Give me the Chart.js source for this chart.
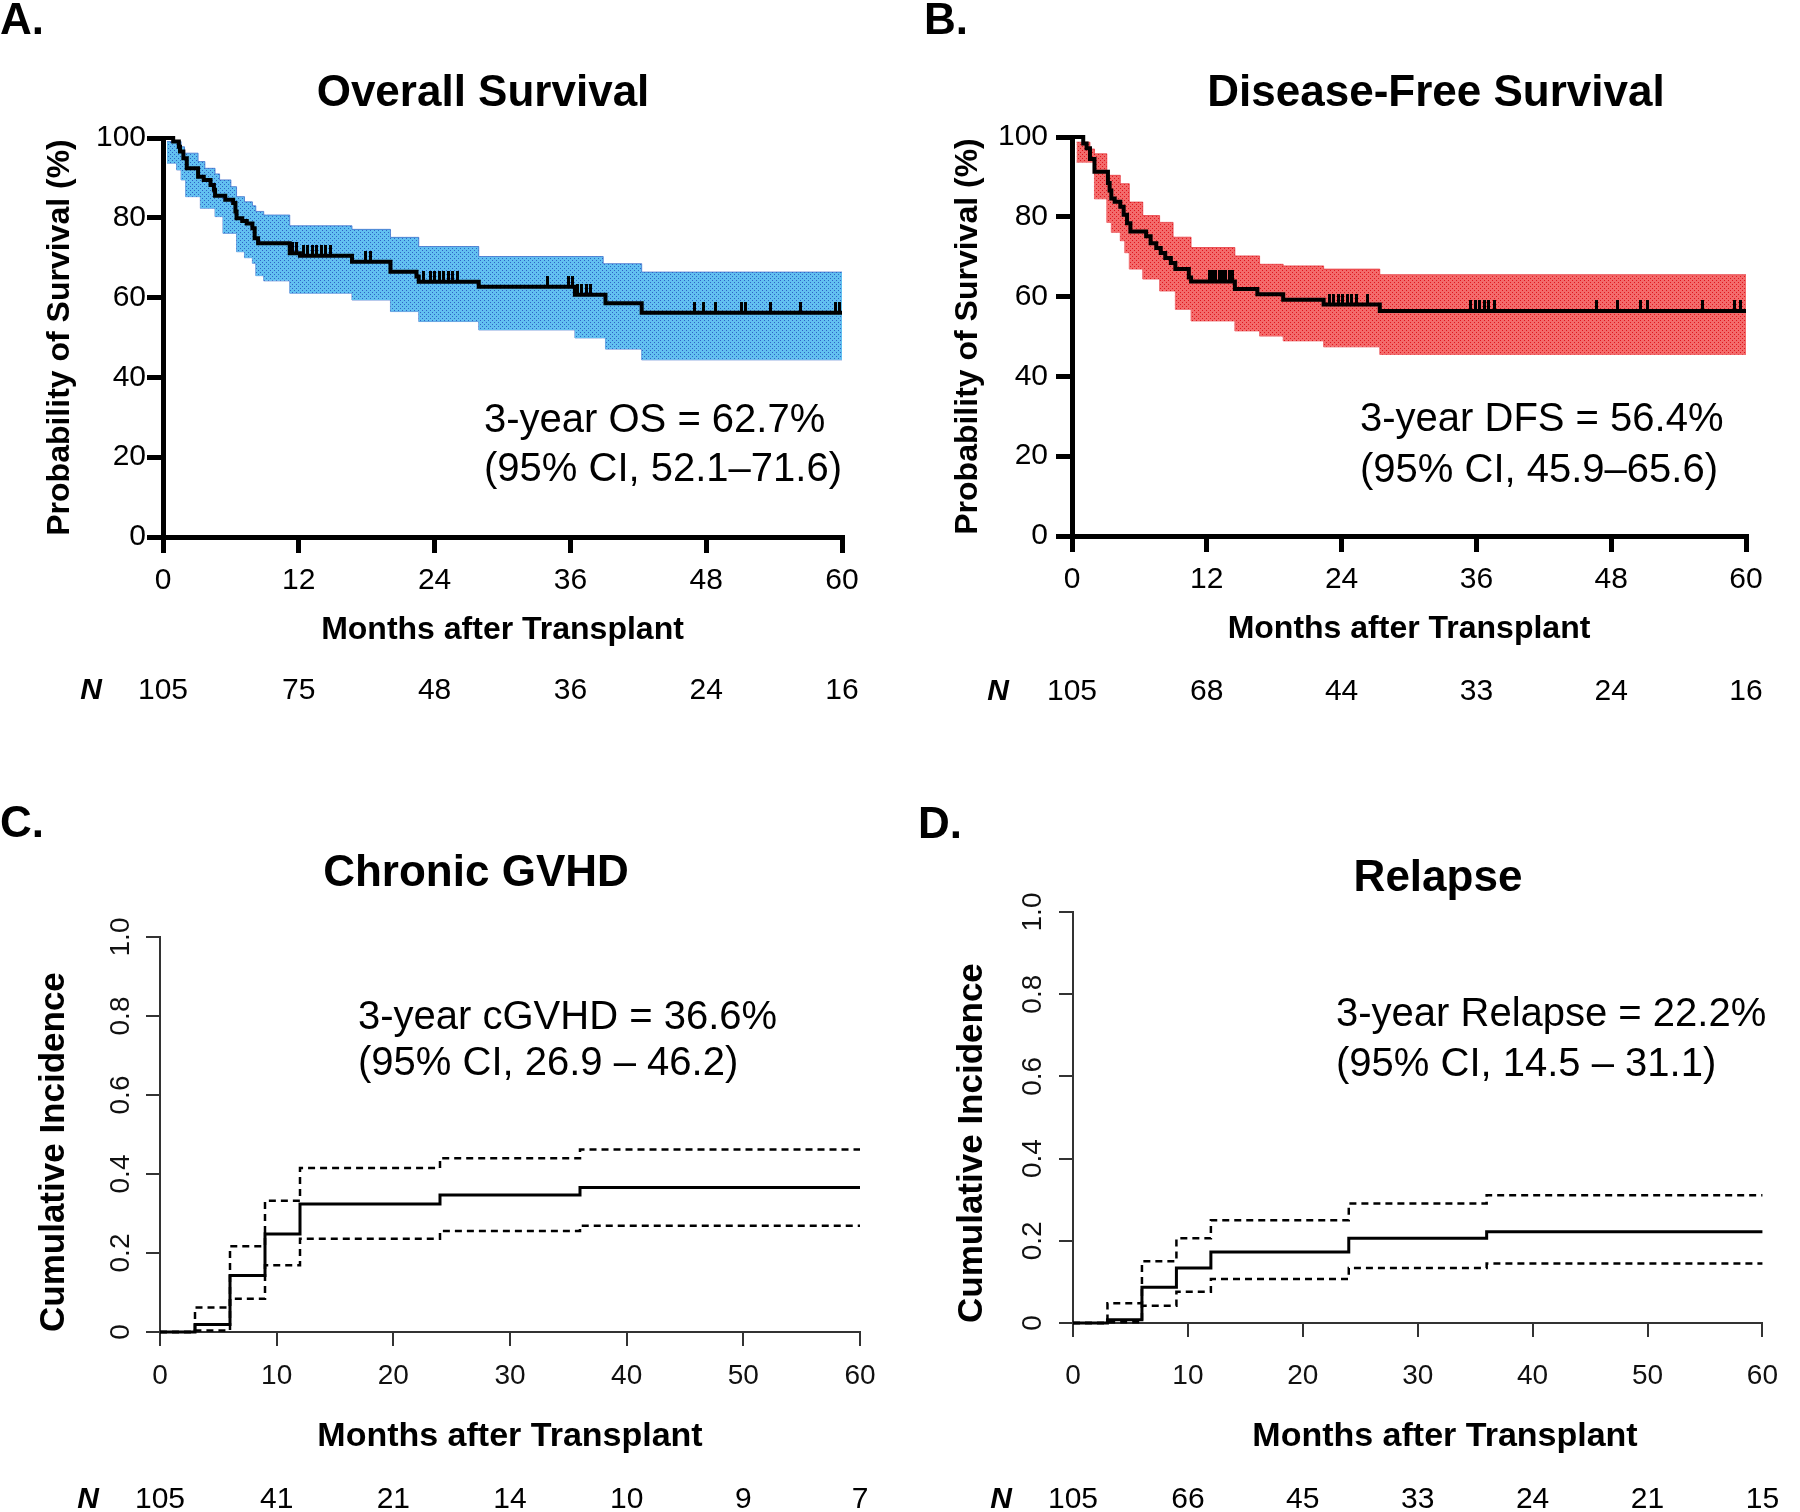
<!DOCTYPE html>
<html>
<head>
<meta charset="utf-8">
<script src="https://cdn.jsdelivr.net/npm/chart.js@4.4.1/dist/chart.umd.min.js"></script>
<style>
  body { margin: 0; background: #fff; }
  #wrap { position: relative; width: 1800px; height: 1512px; overflow: hidden; }
  #wrap canvas { position: absolute; }
</style>
</head>
<body>
<div id="wrap">
  <canvas id="chA" width="900" height="756" style="left:0;top:0"></canvas>
  <canvas id="chB" width="900" height="756" style="left:900px;top:0"></canvas>
  <canvas id="chC" width="900" height="756" style="left:0;top:756px"></canvas>
  <canvas id="chD" width="900" height="756" style="left:900px;top:756px"></canvas>
</div>
<script>
const FONT = '"Liberation Sans", Arial, sans-serif';
Chart.defaults.font.family = FONT;
Chart.defaults.color = '#000';

// A. overall survival: step times (months) and survival (%)
const osTime = [0, 0.9, 1.4, 1.5, 1.8, 2.1, 3.1, 3.6, 4.2, 4.5, 4.6, 5.5, 6.2, 6.4, 6.5, 7.0, 7.4, 7.9, 8.1, 8.4, 11.2, 12.1, 16.7, 20.1, 22.4, 22.6, 27.9, 36.4, 39.1, 42.3, 60];
const osSurv = [100, 99.1, 97.8, 96.6, 94.9, 92.4, 90.3, 89.5, 88.2, 87.0, 85.5, 84.5, 83.7, 81.6, 79.9, 79.2, 78.6, 77.4, 74.9, 73.6, 71.1, 70.5, 69.0, 66.5, 65.3, 64.0, 62.7, 60.7, 58.6, 56.2, 56.2];
const osBandTime = [0.35, 1.2, 1.6, 1.9, 2.0, 3.1, 3.3, 3.7, 4.6, 5.0, 5.3, 6.0, 6.5, 7.2, 7.9, 8.2, 8.9, 11.2, 16.7, 20.1, 22.6, 27.9, 36.4, 38.9, 39.1, 42.3, 60];
const osUpper = [99.1, 99.1, 97.8, 96.2, 96.2, 94.1, 94.1, 92.4, 91.0, 89.5, 89.5, 87.8, 85.3, 84.0, 83.0, 81.6, 80.7, 78.0, 77.1, 75.1, 72.8, 70.3, 70.3, 68.5, 68.5, 66.4, 66.4];
const osLower = [93.7, 92.0, 89.5, 89.5, 85.3, 85.3, 82.4, 82.4, 80.3, 80.3, 76.1, 76.1, 71.5, 70.0, 68.6, 65.5, 64.2, 61.1, 59.4, 56.5, 54.0, 51.9, 49.9, 49.9, 47.1, 44.4, 44.4];
const osCens = [11.4, 11.8, 12.4, 12.8, 13.2, 13.6, 14.0, 14.4, 14.8, 17.9, 18.3, 23.0, 23.6, 24.0, 24.4, 24.8, 25.2, 25.6, 26.0, 34.0, 35.8, 36.2, 36.6, 37.0, 37.4, 37.8, 47.0, 47.8, 48.8, 51.1, 51.5, 53.7, 56.3, 59.4, 59.8];

// B. disease-free survival
const dfsTime = [0, 1.0, 1.3, 1.6, 2.0, 3.2, 3.35, 3.5, 3.8, 4.3, 4.6, 4.9, 5.2, 6.6, 7.0, 7.5, 7.9, 8.3, 8.8, 9.2, 10.4, 10.6, 14.5, 16.5, 18.8, 22.4, 27.4, 60];
const dfsSurv = [100, 98.4, 97.2, 94.5, 91.3, 88.5, 86.6, 84.6, 83.8, 82.5, 80.5, 78.4, 76.3, 75.1, 73.4, 72.2, 70.9, 69.7, 68.4, 66.9, 64.8, 63.8, 61.9, 60.6, 59.2, 58.0, 56.4, 56.4];
const dfsBandTime = [0.4, 1.6, 2.0, 3.1, 3.5, 4.3, 4.7, 5.1, 6.3, 7.8, 9.0, 9.2, 10.6, 14.5, 16.7, 18.8, 22.4, 27.4, 60];
const dfsUpper = [98.7, 97.0, 95.8, 90.4, 90.4, 88.3, 88.3, 83.7, 80.3, 78.6, 74.9, 74.9, 72.3, 70.2, 68.1, 67.7, 66.9, 65.5, 65.5];
const dfsLower = [93.7, 93.7, 84.5, 78.6, 76.1, 74.0, 71.0, 66.9, 64.4, 61.4, 61.4, 56.8, 53.9, 51.4, 50.1, 48.9, 47.4, 45.5, 45.5];
const dfsCens = [12.2, 12.5, 12.8, 13.1, 13.4, 13.7, 14.0, 14.3, 22.9, 23.3, 23.7, 24.1, 24.5, 24.9, 25.3, 26.3, 35.5, 35.9, 36.3, 36.7, 37.1, 37.6, 46.7, 48.6, 50.6, 51.2, 56.1, 59.0, 59.5];

// C. chronic GVHD cumulative incidence
const cgvhdTime = [0, 3, 6, 9, 12, 24, 36, 60];
const cgvhdInc = [0, 0.019, 0.143, 0.248, 0.324, 0.347, 0.366, 0.366];
const cgvhdUpper = [0, 0.062, 0.217, 0.332, 0.415, 0.44, 0.462, 0.462];
const cgvhdLower = [0, 0.004, 0.084, 0.169, 0.236, 0.256, 0.269, 0.269];

// D. relapse cumulative incidence
const relTime = [0, 3, 6, 9, 12, 24, 36, 60];
const relInc = [0, 0.008, 0.087, 0.134, 0.173, 0.206, 0.222, 0.222];
const relUpper = [0, 0.048, 0.15, 0.206, 0.25, 0.291, 0.311, 0.311];
const relLower = [0, 0.002, 0.042, 0.076, 0.107, 0.134, 0.145, 0.145];

// numbers at risk
const kmTicks = [0, 12, 24, 36, 48, 60];
const osRisk = [105, 75, 48, 36, 24, 16];
const dfsRisk = [105, 68, 44, 33, 24, 16];
const ciTicks = [0, 10, 20, 30, 40, 50, 60];
const cgvhdRisk = [105, 41, 21, 14, 10, 9, 7];
const relRisk = [105, 66, 45, 33, 24, 21, 15];

function pts(xs, ys) {
  return xs.map((x, i) => ({ x: x, y: ys[i] }));
}

// value of a step curve at time t
function stepAt(xs, ys, t) {
  let v = ys[0];
  for (let i = 0; i < xs.length; i++) {
    if (xs[i] <= t) v = ys[i];
  }
  return v;
}

function dotted(bg, dot) {
  const c = document.createElement('canvas');
  c.width = 4; c.height = 4;
  const g = c.getContext('2d');
  g.fillStyle = bg;
  g.fillRect(0, 0, 4, 4);
  g.fillStyle = dot;
  g.fillRect(0, 0, 1, 1);
  g.fillRect(2, 2, 1, 1);
  return g.createPattern(c, 'repeat');
}

// censor mark: short vertical tick sitting on top of the curve
const censorMark = document.createElement('canvas');
censorMark.width = 3; censorMark.height = 22;
(function () {
  const g = censorMark.getContext('2d');
  g.fillStyle = '#000';
  g.fillRect(0, 0, 3, 11);
})();

function panelText(cfg) {
  return {
    id: 'panelText',
    afterDraw(chart) {
      const ctx = chart.ctx;
      const xs = chart.scales.x;
      ctx.save();
      ctx.fillStyle = '#000';
      ctx.textBaseline = 'middle';
      ctx.font = 'bold 44px ' + FONT;
      ctx.textAlign = 'left';
      ctx.fillText(cfg.letter, cfg.letterX, cfg.letterY);
      ctx.textAlign = 'center';
      ctx.fillText(cfg.title, cfg.titleX, cfg.titleY);
      if (cfg.xTitle) {
        ctx.font = 'bold 34px ' + FONT;
        ctx.fillText(cfg.xTitle, cfg.xTitleX, cfg.xTitleY);
      }
      ctx.font = '40px ' + FONT;
      ctx.textAlign = 'left';
      cfg.note.forEach((s, i) => ctx.fillText(s, cfg.noteX, cfg.noteY[i]));
      ctx.font = 'italic bold 30px ' + FONT;
      ctx.textAlign = 'center';
      ctx.fillText('N', cfg.nX, cfg.nY);
      ctx.font = '30px ' + FONT;
      cfg.nTicks.forEach((m, i) => ctx.fillText(String(cfg.nRisk[i]), xs.getPixelForValue(m), cfg.nY));
      ctx.restore();
    }
  };
}

function kmChart(id, o, txt) {
  const heavy = { drawOnChartArea: false, tickLength: 16, lineWidth: 5, tickWidth: 5, tickColor: '#000' };
  return new Chart(document.getElementById(id), {
    type: 'line',
    data: {
      datasets: [
        { data: pts(o.time, o.surv), stepped: true, borderColor: '#000', borderWidth: 4, pointRadius: 0, fill: false, clip: 8 },
        { data: o.cens.map(t => ({ x: t, y: stepAt(o.time, o.surv, t) })), showLine: false, pointStyle: censorMark, pointRadius: 4, clip: 12 },
        { data: pts(o.bandTime, o.upper), stepped: true, borderColor: o.edge, borderWidth: 1, pointRadius: 0, backgroundColor: o.fill, fill: '+1' },
        { data: pts(o.bandTime, o.lower), stepped: true, borderColor: o.edge, borderWidth: 1, pointRadius: 0, fill: false }
      ]
    },
    options: {
      responsive: false,
      animation: false,
      devicePixelRatio: 1,
      layout: { padding: { left: 0, top: o.top, right: o.right, bottom: o.bottom } },
      plugins: { legend: { display: false }, tooltip: { enabled: false } },
      scales: {
        x: {
          type: 'linear', min: 0, max: 60,
          ticks: { stepSize: 12, autoSkip: false, maxRotation: 0, padding: 10, font: { size: 30 } },
          grid: heavy,
          border: { width: 5, color: '#000' },
          title: { display: true, text: 'Months after Transplant', font: { size: 32, weight: 'bold', lineHeight: 1 }, padding: { top: 0, bottom: 1 } },
          afterFit: s => { s.height = 110; }
        },
        y: {
          min: 0, max: 100,
          ticks: { stepSize: 20, padding: o.yTickPad, font: { size: 30 } },
          grid: heavy,
          border: { width: 5, color: '#000' },
          title: { display: true, text: 'Probability of Survival (%)', font: { size: 32, weight: 'bold', lineHeight: 1 }, padding: { top: o.yTitlePad, bottom: 0 } },
          afterFit: s => { s.width = o.yWidth; }
        }
      }
    },
    plugins: [panelText(txt)]
  });
}

function ciChart(id, o, txt) {
  const thin = { drawOnChartArea: false, tickLength: 14, lineWidth: 2, tickWidth: 2, tickColor: '#333' };
  return new Chart(document.getElementById(id), {
    type: 'line',
    data: {
      datasets: [
        { data: pts(o.time, o.inc), stepped: true, borderColor: '#000', borderWidth: 3, pointRadius: 0, fill: false, clip: 6 },
        { data: pts(o.time, o.upper), stepped: true, borderColor: '#000', borderWidth: 2.5, borderDash: [7, 5], pointRadius: 0, fill: false, clip: 6 },
        { data: pts(o.time, o.lower), stepped: true, borderColor: '#000', borderWidth: 2.5, borderDash: [7, 5], pointRadius: 0, fill: false, clip: 6 }
      ]
    },
    options: {
      responsive: false,
      animation: false,
      devicePixelRatio: 1,
      layout: { padding: { left: 0, top: o.top, right: o.right, bottom: o.bottom } },
      plugins: { legend: { display: false }, tooltip: { enabled: false } },
      scales: {
        x: {
          type: 'linear', min: 0, max: 60,
          ticks: { stepSize: 10, autoSkip: false, maxRotation: 0, padding: o.xPad, color: '#111', font: { size: 28 } },
          grid: thin,
          border: { width: 2, color: '#333' },
          title: { display: !txt.xTitle, text: 'Months after Transplant', font: { size: 34, weight: 'bold', lineHeight: 1 }, padding: { top: 0, bottom: o.xTitlePad } },
          afterFit: s => { s.height = o.xH; }
        },
        y: {
          min: 0, max: 1,
          ticks: {
            stepSize: 0.2, minRotation: 90, maxRotation: 90, crossAlign: 'center', padding: o.yTickPad,
            color: '#111', font: { size: 28 },
            callback: v => v === 0 ? '0' : v.toFixed(1)
          },
          grid: thin,
          border: { width: 2, color: '#333' },
          title: { display: true, text: 'Cumulative Incidence', align: 'start', font: { size: 35, weight: 'bold', lineHeight: 1 }, padding: { top: o.yTitlePad, bottom: 0 } },
          afterFit: s => { s.width = o.yWidth; }
        }
      }
    },
    plugins: [panelText(txt)]
  });
}

kmChart('chA', {
  time: osTime, surv: osSurv, cens: osCens, bandTime: osBandTime, upper: osUpper, lower: osLower,
  fill: dotted('#62c0f0', '#2f63c8'), edge: 'rgba(47,99,200,0.7)',
  top: 138, right: 58, bottom: 109, yWidth: 163, yTitlePad: 44, yTickPad: 1
}, {
  letter: 'A.', letterX: 0, letterY: 22, title: 'Overall Survival', titleX: 483, titleY: 94,
  note: ['3-year OS = 62.7%', '(95% CI, 52.1\u201371.6)'], noteX: 484, noteY: [421, 470],
  nX: 91, nY: 691, nTicks: kmTicks, nRisk: osRisk
});

kmChart('chB', {
  time: dfsTime, surv: dfsSurv, cens: dfsCens, bandTime: dfsBandTime, upper: dfsUpper, lower: dfsLower,
  fill: dotted('#f36b6b', '#e0141c'), edge: 'rgba(224,20,28,0.6)',
  top: 137, right: 54, bottom: 110, yWidth: 172, yTitlePad: 52, yTickPad: 8
}, {
  letter: 'B.', letterX: 24, letterY: 22, title: 'Disease-Free Survival', titleX: 536, titleY: 94,
  note: ['3-year DFS = 56.4%', '(95% CI, 45.9\u201365.6)'], noteX: 460, noteY: [420, 471],
  nX: 98, nY: 692, nTicks: kmTicks, nRisk: dfsRisk
});

ciChart('chC', {
  time: cgvhdTime, inc: cgvhdInc, upper: cgvhdUpper, lower: cgvhdLower,
  top: 181, right: 40, bottom: 58, xH: 122, xPad: 13, xTitlePad: 0, yWidth: 160, yTickPad: 5, yTitlePad: 37
}, {
  letter: 'C.', letterX: 0, letterY: 69, title: 'Chronic GVHD', titleX: 476, titleY: 118,
  note: ['3-year cGVHD = 36.6%', '(95% CI, 26.9 \u2013 46.2)'], noteX: 358, noteY: [262, 308],
  nX: 88, nY: 744, nTicks: ciTicks, nRisk: cgvhdRisk
});

ciChart('chD', {
  time: relTime, inc: relInc, upper: relUpper, lower: relLower,
  top: 156, right: 19, bottom: 57, xH: 132, xPad: 22, xTitlePad: 1, yWidth: 173, yTickPad: 6.5, yTitlePad: 55
}, {
  letter: 'D.', letterX: 18, letterY: 70, title: 'Relapse', titleX: 538, titleY: 123,
  xTitle: 'Months after Transplant', xTitleX: 545, xTitleY: 681,
  note: ['3-year Relapse = 22.2%', '(95% CI, 14.5 \u2013 31.1)'], noteX: 436, noteY: [259, 309],
  nX: 101, nY: 744, nTicks: ciTicks, nRisk: relRisk
});
</script>
</body>
</html>
